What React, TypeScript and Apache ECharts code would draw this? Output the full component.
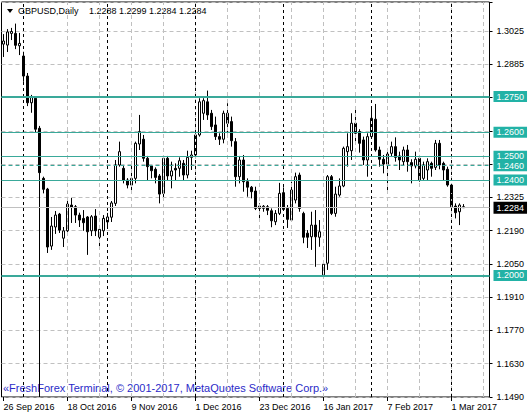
import React, { useEffect, useRef } from 'react';
import * as echarts from 'echarts';

// ---- data ----
const open = [
  1.2970, 1.2966, 1.3015, 1.3015, 1.2963,
  1.2920, 1.2836, 1.2724, 1.2743, 1.2617,
  1.2407, 1.2362, 1.2123, 1.2203, 1.2257,
  1.2156, 1.2187, 1.2295, 1.2288, 1.2253,
  1.2239, 1.2245, 1.2187, 1.2249, 1.2160,
  1.2187, 1.2224, 1.2244, 1.2302, 1.2463,
  1.2449, 1.2400, 1.2379, 1.2407, 1.2551,
  1.2571, 1.2491, 1.2459, 1.2445, 1.2417,
  1.2344, 1.2491, 1.2417, 1.2449, 1.2449,
  1.2470, 1.2421, 1.2495, 1.2505, 1.2589,
  1.2680, 1.2728, 1.2680, 1.2631, 1.2582,
  1.2571, 1.2680, 1.2645, 1.2561, 1.2414,
  1.2484, 1.2393, 1.2370, 1.2354, 1.2291,
  1.2281, 1.2288, 1.2271, 1.2225, 1.2260,
  1.2347, 1.2281, 1.2232, 1.2316, 1.2421,
  1.2260, 1.2177, 1.2162, 1.2211, 1.2160,
  1.2002, 1.2051, 1.2414, 1.2260, 1.2337,
  1.2375, 1.2519, 1.2523, 1.2638, 1.2603,
  1.2568, 1.2484, 1.2582, 1.2655, 1.2526,
  1.2487, 1.2467, 1.2512, 1.2540, 1.2501,
  1.2477, 1.2526, 1.2473, 1.2459, 1.2491,
  1.2407, 1.2442, 1.2470, 1.2453, 1.2554,
  1.2470, 1.2445, 1.2379, 1.2291, 1.2267,
  1.2288,
];
const high = [
  1.3012, 1.3033, 1.3038, 1.3056, 1.3017,
  1.2938, 1.2849, 1.2757, 1.2752, 1.2627,
  1.2414, 1.2367, 1.2245, 1.2270, 1.2262,
  1.2203, 1.2329, 1.2325, 1.2295, 1.2263,
  1.2274, 1.2249, 1.2253, 1.2278, 1.2207,
  1.2253, 1.2262, 1.2312, 1.2484, 1.2561,
  1.2463, 1.2408, 1.2477, 1.2561, 1.2673,
  1.2589, 1.2501, 1.2463, 1.2453, 1.2425,
  1.2501, 1.2501, 1.2477, 1.2470, 1.2495,
  1.2484, 1.2523, 1.2523, 1.2596, 1.2743,
  1.2743, 1.2775, 1.2694, 1.2666, 1.2596,
  1.2691, 1.2722, 1.2666, 1.2576, 1.2501,
  1.2505, 1.2407, 1.2375, 1.2372, 1.2302,
  1.2295, 1.2295, 1.2281, 1.2274, 1.2388,
  1.2369, 1.2295, 1.2393, 1.2431, 1.2431,
  1.2267, 1.2190, 1.2267, 1.2274, 1.2232,
  1.2057, 1.2421, 1.2421, 1.2372, 1.2407,
  1.2540, 1.2596, 1.2680, 1.2694, 1.2613,
  1.2582, 1.2596, 1.2705, 1.2719, 1.2540,
  1.2505, 1.2519, 1.2561, 1.2579, 1.2519,
  1.2540, 1.2547, 1.2487, 1.2519, 1.2505,
  1.2477, 1.2491, 1.2477, 1.2568, 1.2568,
  1.2477, 1.2456, 1.2386, 1.2302, 1.2302,
  1.2299,
];
const low = [
  1.2916, 1.2937, 1.2987, 1.2949, 1.2924,
  1.2812, 1.2710, 1.2682, 1.2598, 1.1490,
  1.2344, 1.2094, 1.2107, 1.2174, 1.2178,
  1.2119, 1.2179, 1.2220, 1.2220, 1.2203,
  1.2187, 1.2086, 1.2165, 1.2165, 1.2114,
  1.2165, 1.2195, 1.2224, 1.2291, 1.2456,
  1.2386, 1.2365, 1.2358, 1.2386, 1.2526,
  1.2477, 1.2400, 1.2407, 1.2386, 1.2302,
  1.2323, 1.2400, 1.2365, 1.2400, 1.2414,
  1.2400, 1.2407, 1.2442, 1.2498, 1.2582,
  1.2652, 1.2652, 1.2610, 1.2568, 1.2547,
  1.2554, 1.2596, 1.2540, 1.2372, 1.2386,
  1.2351, 1.2330, 1.2323, 1.2274, 1.2225,
  1.2267, 1.2253, 1.2202, 1.2211, 1.2253,
  1.2271, 1.2199, 1.2225, 1.2302, 1.2267,
  1.2135, 1.2115, 1.2107, 1.2036, 1.2120,
  1.1988, 1.2023, 1.2253, 1.2246, 1.2330,
  1.2370, 1.2456, 1.2484, 1.2554, 1.2515,
  1.2463, 1.2414, 1.2575, 1.2519, 1.2456,
  1.2428, 1.2351, 1.2498, 1.2477, 1.2442,
  1.2463, 1.2435, 1.2386, 1.2449, 1.2393,
  1.2400, 1.2400, 1.2414, 1.2442, 1.2445,
  1.2400, 1.2372, 1.2281, 1.2239, 1.2211,
  1.2284,
];
const close = [
  1.2983, 1.3021, 1.3023, 1.2965, 1.2973,
  1.2836, 1.2724, 1.2747, 1.2613, 1.2431,
  1.2361, 1.2119, 1.2207, 1.2253, 1.2190,
  1.2187, 1.2299, 1.2286, 1.2253, 1.2232,
  1.2221, 1.2183, 1.2246, 1.2187, 1.2193,
  1.2239, 1.2245, 1.2304, 1.2463, 1.2519,
  1.2400, 1.2379, 1.2407, 1.2554, 1.2603,
  1.2491, 1.2456, 1.2439, 1.2411, 1.2341,
  1.2491, 1.2417, 1.2438, 1.2442, 1.2481,
  1.2421, 1.2495, 1.2505, 1.2589, 1.2728,
  1.2733, 1.2673, 1.2624, 1.2582, 1.2571,
  1.2680, 1.2638, 1.2565, 1.2414, 1.2484,
  1.2393, 1.2370, 1.2351, 1.2281, 1.2281,
  1.2290, 1.2273, 1.2229, 1.2260, 1.2344,
  1.2277, 1.2235, 1.2358, 1.2414, 1.2281,
  1.2160, 1.2160, 1.2211, 1.2162, 1.2183,
  1.2047, 1.2414, 1.2260, 1.2341, 1.2375,
  1.2533, 1.2540, 1.2638, 1.2596, 1.2554,
  1.2484, 1.2582, 1.2659, 1.2526, 1.2487,
  1.2467, 1.2509, 1.2540, 1.2495, 1.2484,
  1.2526, 1.2477, 1.2459, 1.2487, 1.2400,
  1.2463, 1.2477, 1.2449, 1.2554, 1.2463,
  1.2442, 1.2379, 1.2288, 1.2263, 1.2295,
  1.2284,
];

const xTickLabels = ['26 Sep 2016', '18 Oct 2016', '9 Nov 2016', '1 Dec 2016', '23 Dec 2016', '16 Jan 2017', '7 Feb 2017', '1 Mar 2017'];
const monthSeparators = ['3 Oct 2016', '1 Nov 2016', '1 Dec 2016', '2 Jan 2017', '1 Feb 2017', '1 Mar 2017'];
const gridColumns = [16, 24, 32, 40, 48, 56, 64, 72, 80, 88, 96, 104, 112, 120];

const yTickLabels = ['1.1490', '1.1630', '1.1770', '1.1910', '1.2050', '1.2190', '1.2325', '', '', '', '1.2885', '1.3025'];
const Y_MIN = 1.149;
const Y_STEP = 0.01395;
const Y_MAX = 1.31466;

const levels = [1.2750, 1.2600, 1.2500, 1.2460, 1.2400, 1.2000];
const levelLabels = ['1.2750', '1.2600', '1.2500', '1.2460', '1.2400', '1.2000'];
const levelWidths = [2, 1, 1, 1, 1, 2];
const levelDashed = [false, false, false, true, false, false];

const currentPrice = 1.2284;
const currentLabel = '1.2284';
const titleSymbol = 'GBPUSD,Daily';
const titleValues = '1.2288 1.2299 1.2284 1.2284';
const watermark = '«FreshForex Terminal, © 2001-2017, MetaQuotes Software Corp.»';

const MONTHS = ['Jan', 'Feb', 'Mar', 'Apr', 'May', 'Jun', 'Jul', 'Aug', 'Sep', 'Oct', 'Nov', 'Dec'];
function tradingDays(start: Date, count: number): string[] {
  const out: string[] = [];
  const d = new Date(start.getTime());
  while (out.length < count) {
    const wd = d.getDay();
    if (wd !== 0 && wd !== 6) out.push(`${d.getDate()} ${MONTHS[d.getMonth()]} ${d.getFullYear()}`);
    d.setDate(d.getDate() + 1);
  }
  return out;
}
const dates = tradingDays(new Date(2016, 8, 26), open.length);
const EMPTY_SLOTS = 6;
const categories = dates.concat(Array.from({ length: EMPTY_SLOTS }, () => ''));

const FONT = '"Liberation Sans", Arial, sans-serif';
const TEAL_LINE = '#3aa99a';
const TEAL_BOX = '#22b2a6';

export default function App() {
  const ref = useRef<HTMLDivElement>(null);
  useEffect(() => {
    if (!ref.current) return;
    const chart = echarts.init(ref.current, undefined, { renderer: 'svg' });
    const candleData = open.map((o, i) => [o, close[i], low[i], high[i]]);
    const showLabel = (_idx: number, val: string) => xTickLabels.includes(val);

    chart.setOption({
      animation: false,
      backgroundColor: '#fff',
      grid: { left: 1.5, top: 2, width: 488, height: 395, show: true, borderColor: '#000', borderWidth: 1, backgroundColor: 'transparent' },
      xAxis: {
        type: 'category',
        data: categories,
        boundaryGap: true,
        axisLine: { show: false },
        axisTick: { show: true, alignWithLabel: true, interval: showLabel, length: 4, lineStyle: { color: '#000' } },
        axisLabel: { interval: showLabel, formatter: (v: string) => v, align: 'left', margin: 5, fontSize: 9, color: '#000', fontFamily: FONT },
        splitLine: { show: false },
      },
      yAxis: {
        type: 'value',
        position: 'right',
        min: Y_MIN,
        max: Y_MAX,
        interval: Y_STEP,
        axisLine: { show: false },
        axisTick: { show: true, length: 3, lineStyle: { color: '#000' } },
        axisLabel: {
          margin: 7,
          fontSize: 9,
          lineHeight: 8,
          color: '#000',
          fontFamily: FONT,
          formatter: (v: number) => {
            const k = Math.round((v - Y_MIN) / Y_STEP);
            if (Math.abs(v - (Y_MIN + k * Y_STEP)) > 1e-6) return '';
            return yTickLabels[k] ?? '';
          },
        },
        splitLine: { show: true, lineStyle: { color: '#c0c0c0', type: [4, 3], width: 1 } },
      },
      series: [
        {
          type: 'line', data: [], z: 1, silent: true,
          markLine: {
            silent: true, precision: 6, symbol: ['none', 'none'], label: { show: false },
            lineStyle: { color: '#c0c0c0', type: [4, 3], width: 1 },
            data: gridColumns.map((i) => ({ xAxis: i })),
          },
        },
        {
          type: 'line', data: [], z: 2, silent: true,
          markLine: {
            silent: true, precision: 6, symbol: ['none', 'none'],
            lineStyle: { color: '#c0c0c0', type: 'solid', width: 1 },
            label: { show: true, position: 'end', distance: 4, formatter: currentLabel, color: '#fff', backgroundColor: '#000', padding: [1, 3, 0, 3], lineHeight: 11, fontSize: 9, fontFamily: FONT },
            data: [{ yAxis: currentPrice }],
          },
        },
        {
          type: 'line', data: [], z: 2, silent: true,
          markLine: {
            silent: true, precision: 6, symbol: ['none', 'none'], label: { show: false },
            lineStyle: { color: '#000', type: [3, 3], width: 1 },
            data: monthSeparators.map((d) => ({ xAxis: d })),
          },
        },
        {
          type: 'candlestick',
          data: candleData,
          barWidth: 2,
          z: 3,
          itemStyle: { color: '#fff', color0: '#000', borderColor: '#000', borderColor0: '#000', borderWidth: 1 },
        },
        {
          type: 'line', data: [], z: 4, silent: true,
          markLine: {
            silent: true, precision: 6, symbol: ['none', 'none'],
            label: { show: true, position: 'end', distance: 4, color: '#fff', backgroundColor: TEAL_BOX, padding: [1, 3, 0, 3], lineHeight: 10, fontSize: 9, fontFamily: FONT },
            data: levels.map((lv, i) => ({
              yAxis: lv,
              lineStyle: { color: TEAL_LINE, width: levelWidths[i], type: levelDashed[i] ? [4, 3] : 'solid' },
              label: { formatter: levelLabels[i] },
            })),
          },
        },
      ],
      graphic: [
        { type: 'polygon', shape: { points: [[7, 9], [13, 9], [10, 13]] }, style: { fill: '#000' } },
        { type: 'text', left: 18, top: 6, style: { text: titleSymbol, fill: '#000', font: `9px ${FONT}` } },
        { type: 'text', left: 89, top: 6, style: { text: titleValues, fill: '#000', font: `9px ${FONT}` } },
        { type: 'text', left: 3, top: 382, style: { text: watermark, fill: '#2b2bc8', font: `11px ${FONT}` } },
      ],
    });
    return () => chart.dispose();
  }, []);
  return <div ref={ref} style={{ position: 'absolute', left: 0, top: 0, width: 530, height: 420 }} />;
}
